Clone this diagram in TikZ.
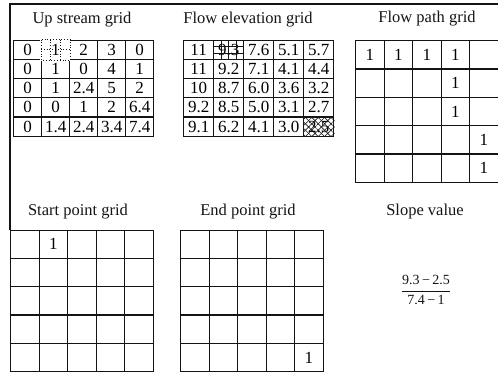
\documentclass[tikz,border=0pt]{standalone}
\usepackage{fontspec}
\usepackage{amsmath}
\setmainfont{Liberation Serif}
\usetikzlibrary{positioning,calc,patterns.meta}
\definecolor{Ink}{HTML}{141414}
\tikzset{
  frameline/.style={draw=Ink, line width=1.3pt},
  cell/.style={draw=Ink, line width=1.3pt, inner sep=0pt, anchor=north west,
    font=\fontsize{17}{17}\selectfont},
  upcell/.style={cell, minimum width=28pt, minimum height=19.2pt},
  elevcell/.style={cell, minimum width=30pt, minimum height=19.2pt},
  squarecell/.style={cell, minimum width=28.5pt, minimum height=28.3pt},
  gridtitle/.style={font=\fontsize{16.5}{18}\selectfont, text=Ink},
  fineline/.style={draw=Ink, line width=0.5pt},
  dotline/.style={draw=Ink, line width=0.8pt, dotted},
  slopetext/.style={font=\fontsize{14}{16}\selectfont, text=Ink},
}

\begin{document}
\begin{tikzpicture}[x=1pt, y=-1pt]
  \useasboundingbox (0,0) rectangle (498,372);

  % Open frame along the top and left edges.
  \coordinate (framecorner) at (10,4);
  \coordinate (frametop) at (498,4);
  \coordinate (framefoot) at (10,230);
  \draw[frameline] (frametop) -- (framecorner) -- (framefoot);

  % Upper row of grids.
  \node[gridtitle] (uptitle) at (82,20) {Up stream grid};
  \foreach \vals [count=\r] in {{0,1,2,3,0},{0,1,0,4,1},{0,1,2.4,5,2},{0,0,1,2,6.4},{0,1.4,2.4,3.4,7.4}}
    \foreach \v [count=\c] in \vals
      \node[upcell] (up-\r-\c) at ({13+(\c-1)*28}, {39.5+(\r-1)*19.2}) {\v};

  \node[gridtitle] (elevtitle) at (248,20) {Flow elevation grid};
  \foreach \vals [count=\r] in {{11,9.3,7.6,5.1,5.7},{11,9.2,7.1,4.1,4.4},{10,8.7,6.0,3.6,3.2},{9.2,8.5,5.0,3.1,2.7},{9.1,6.2,4.1,3.0,2.5}}
    \foreach \v [count=\c] in \vals
      \node[elevcell] (elev-\r-\c) at ({183+(\c-1)*30}, {39.5+(\r-1)*19.2}) {\v};

  \node[gridtitle] (pathtitle) at (427,19) {Flow path grid};
  \foreach \vals [count=\r] in {{1,1,1,1,{}},{{},{},{},1,{}},{{},{},{},1,{}},{{},{},{},{},1},{{},{},{},{},1}}
    \foreach \v [count=\c] in \vals
      \node[squarecell] (path-\r-\c) at ({355+(\c-1)*28.5}, {40+(\r-1)*28.3}) {\v};

  % Marked cells: start cell dotted, its elevation ruled, the outlet hatched.
  \fill[white] ([shift={(-0.9pt,0.9pt)}]up-1-2.north west) rectangle ([shift={(0.9pt,-0.9pt)}]up-1-2.south east);
  \draw[dotline] (up-1-2.north west) rectangle (up-1-2.south east);
  \foreach \f in {0.33,0.67}
    \draw[dotline] ($(up-1-2.north west)!\f!(up-1-2.north east)$) -- ($(up-1-2.south west)!\f!(up-1-2.south east)$);
  \draw[dotline] ($(up-1-2.north west)!0.5!(up-1-2.south west)$) -- ($(up-1-2.north east)!0.5!(up-1-2.south east)$);
  \node[font=\fontsize{17}{17}\selectfont, inner sep=0pt] (upmark) at (up-1-2) {1};

  \foreach \f in {0.25,0.5,0.75}
    \draw[fineline] ($(elev-1-2.north west)!\f!(elev-1-2.north east)$) -- ($(elev-1-2.south west)!\f!(elev-1-2.south east)$);
  \foreach \f in {0.33,0.67}
    \draw[fineline] ($(elev-1-2.north west)!\f!(elev-1-2.south west)$) -- ($(elev-1-2.north east)!\f!(elev-1-2.south east)$);

  \fill[pattern={Lines[angle=45,distance=4.5pt,line width=0.6pt]}, pattern color=Ink]
    (elev-5-5.north west) rectangle (elev-5-5.south east);
  \fill[pattern={Lines[angle=-45,distance=4.5pt,line width=0.6pt]}, pattern color=Ink]
    (elev-5-5.north west) rectangle (elev-5-5.south east);

  % Lower row of grids and the slope.
  \node[gridtitle] (starttitle) at (78,212) {Start point grid};
  \foreach \vals [count=\r] in {{{},1,{},{},{}},{{},{},{},{},{}},{{},{},{},{},{}},{{},{},{},{},{}},{{},{},{},{},{}}}
    \foreach \v [count=\c] in \vals
      \node[squarecell] (start-\r-\c) at ({10+(\c-1)*28.5}, {229.5+(\r-1)*28.3}) {\v};

  \node[gridtitle] (endtitle) at (248,212) {End point grid};
  \foreach \vals [count=\r] in {{{},{},{},{},{}},{{},{},{},{},{}},{{},{},{},{},{}},{{},{},{},{},{}},{{},{},{},{},1}}
    \foreach \v [count=\c] in \vals
      \node[squarecell] (end-\r-\c) at ({180+(\c-1)*28.5}, {229.5+(\r-1)*28.3}) {\v};

  \node[gridtitle] (slopetitle) at (425,212) {Slope value};
  \node[slopetext] (slope) at (426,290) {$\dfrac{\text{9.3\,−\,2.5}}{\text{7.4\,−\,1}}$};
\end{tikzpicture}
\end{document}
